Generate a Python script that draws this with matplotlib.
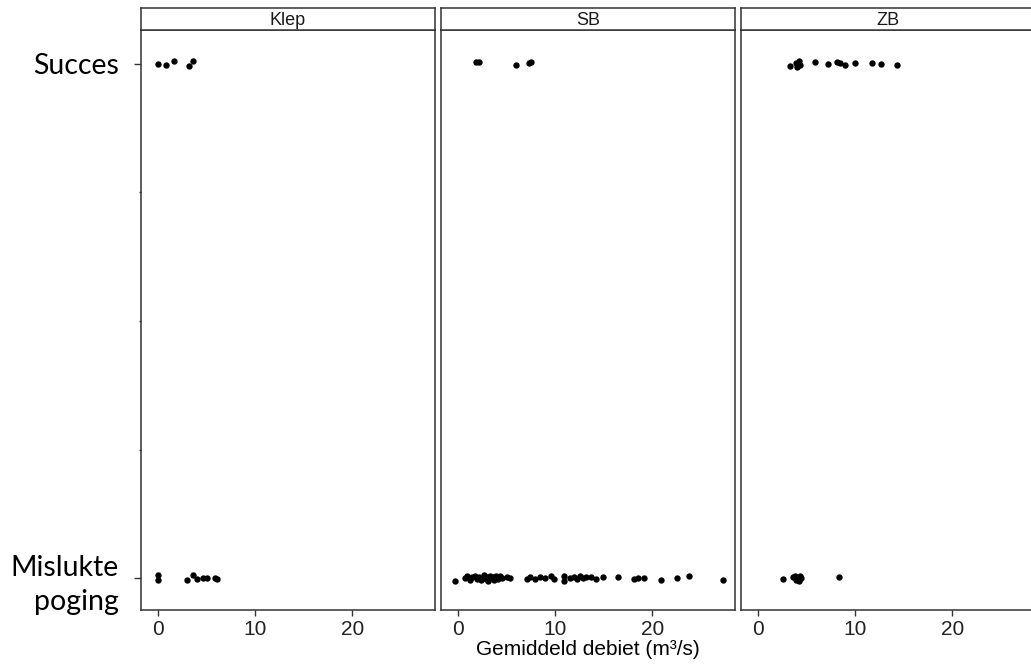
import numpy as np
import matplotlib
matplotlib.use('Agg')
import matplotlib.pyplot as plt

# facet names
panels = ['Klep', 'SB', 'ZB']

# mean discharge (m3/s) per attempt
klep_succes = [0.0, 0.9, 1.7, 3.2, 3.6]
klep_succes_jit = [0.000, -0.002, 0.005, -0.004, 0.006]
klep_fail = [0.0, 0.0, 3.0, 3.6, 4.1, 4.7, 5.1, 5.9, 6.1]
klep_fail_jit = [0.006, -0.004, -0.004, 0.006, -0.001, 0.000, 0.001, 0.000, -0.002]

sb_succes = [1.9, 2.2, 6.0, 7.3, 7.5]
sb_succes_jit = [0.003, 0.003, -0.002, 0.001, 0.004]
sb_fail = [-0.3, 0.8, 1.0, 1.3, 1.5, 1.8, 2.0, 2.2, 2.4, 2.5, 2.7, 2.9, 3.0, 3.1,
           3.3, 3.4, 3.6, 3.7, 3.9, 4.0, 4.2, 4.4, 4.6, 5.1, 5.4, 7.1, 7.4, 8.0,
           8.5, 9.0, 9.6, 9.9, 10.9, 10.9, 11.5, 12.0, 12.3, 12.6, 12.9, 13.2,
           13.7, 14.2, 14.9, 16.5, 18.1, 18.5, 19.2, 20.9, 22.5, 23.8, 27.3]
sb_fail_jit = [-0.006, 0.000, 0.004, -0.003, 0.002, 0.005, -0.002, 0.003, -0.004, 0.001,
               0.006, -0.001, 0.002, -0.005, 0.004, 0.000, 0.003, -0.003, 0.005, 0.001,
               -0.002, 0.004, 0.000, 0.003, 0.001, -0.002, 0.003, -0.001, 0.002, 0.000,
               0.004, -0.002, 0.005, -0.005, 0.001, 0.003, -0.002, 0.004, 0.000, 0.002,
               0.003, -0.001, 0.002, 0.003, -0.002, 0.001, 0.000, -0.003, 0.001, 0.004, -0.003]

zb_succes = [3.3, 4.0, 4.1, 4.3, 4.4, 5.9, 7.2, 8.2, 8.5, 9.0, 10.0, 11.8, 12.7, 14.3]
zb_succes_jit = [-0.004, 0.002, -0.006, 0.006, -0.002, 0.003, -0.001, 0.004, 0.001, -0.003,
                 0.002, 0.002, -0.001, -0.002]
zb_fail = [2.6, 3.6, 3.8, 4.0, 4.2, 4.3, 4.4, 4.5, 8.4]
zb_fail_jit = [-0.002, 0.002, 0.004, -0.003, 0.001, -0.006, 0.005, 0.000, 0.003]

data = {
    'Klep': (klep_succes, klep_succes_jit, klep_fail, klep_fail_jit),
    'SB': (sb_succes, sb_succes_jit, sb_fail, sb_fail_jit),
    'ZB': (zb_succes, zb_succes_jit, zb_fail, zb_fail_jit),
}

W, H = 1031, 668
fig = plt.figure(figsize=(W / 100, H / 100), dpi=100)

edge = '#333333'
tick_font = ['Liberation Sans Narrow', 'Liberation Sans']

for i, name in enumerate(panels):
    left = (141 + 300 * i) / W
    ax = fig.add_axes([left, 58 / H, 294 / W, 580 / H])
    s_x, s_j, f_x, f_j = data[name]
    ax.scatter(s_x, 1 + np.array(s_j), s=21, color='black', linewidths=0, zorder=3)
    ax.scatter(f_x, 0 + np.array(f_j), s=21, color='black', linewidths=0, zorder=3)
    ax.set_xlim(-1.7, 28.5)
    ax.set_ylim(-0.062, 1.066)
    ax.set_xticks([0, 10, 20])
    ax.tick_params(axis='x', length=4, width=1, color=edge, labelsize=15,
                   labelcolor='#222222', pad=3)
    for lab in ax.get_xticklabels():
        lab.set_fontfamily(tick_font)
    for sp in ax.spines.values():
        sp.set_color(edge)
        sp.set_linewidth(1.1)

    if i == 0:
        ax.set_yticks([0, 1])
        ax.set_yticklabels(['Mislukte\npoging', 'Succes'], fontfamily='Lato',
                           fontsize=20.5, color='black', linespacing=1.4)
        ax.set_yticks([0.25, 0.5, 0.75], minor=True)
        ax.tick_params(axis='y', which='major', length=5, width=1, color=edge, pad=11)
        ax.tick_params(axis='y', which='minor', length=1.5, width=1, color=edge)
    else:
        ax.set_yticks([])

    if i == 1:
        ax.set_xlabel('Gemiddeld debiet (m³/s)', fontsize=15, fontfamily=tick_font,
                      color='black', labelpad=1)

    # facet strip on top
    st = fig.add_axes([left, (H - 30) / H, 294 / W, 22 / H])
    st.set_xticks([])
    st.set_yticks([])
    for sp in st.spines.values():
        sp.set_color(edge)
        sp.set_linewidth(1.1)
    st.text(0.5, 0.45, name, ha='center', va='center', fontsize=13,
            fontfamily=tick_font, color='#1a1a1a', transform=st.transAxes)

fig.savefig('out.png', dpi=100)
